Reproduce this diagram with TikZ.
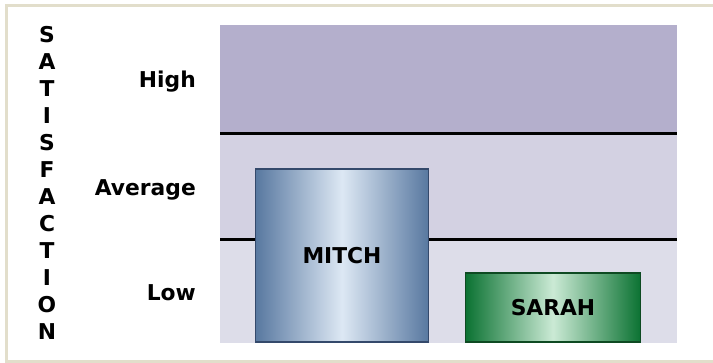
\documentclass[tikz,border=0pt]{standalone}
\usepackage{fontspec}
\setmainfont{DejaVu Sans}
\usetikzlibrary{positioning}

\definecolor{frameBeige}{HTML}{E2DECB}
\definecolor{bandHigh}{HTML}{B4AFCC}
\definecolor{bandAverage}{HTML}{D3D1E2}
\definecolor{bandLow}{HTML}{DDDDE9}
\definecolor{mitchDark}{HTML}{5878A0}
\definecolor{mitchLight}{HTML}{DDE8F4}
\definecolor{mitchEdge}{HTML}{34496B}
\definecolor{sarahDark}{HTML}{0B7232}
\definecolor{sarahLight}{HTML}{CBEAD5}
\definecolor{sarahEdge}{HTML}{0E4A22}

\begin{document}
\begin{tikzpicture}[x=1pt, y=-1pt, font=\fontsize{21.8}{26}\selectfont\bfseries]
        \useasboundingbox (0,0) rectangle (713,363);
        \draw[line width=3pt, color = frameBeige] (6,5.5) rectangle (720,361.5);

        % bands of the chart
        \fill[color = bandHigh] (220,25) rectangle (677,134);
        \fill[color = bandAverage] (220,134) rectangle (677,240);
        \fill[color = bandLow] (220,240) rectangle (677,343);
        \draw[line width=3pt, color = black] (220,133.5) -- (677,133.5);
        \draw[line width=3pt, color = black] (220,240) -- (677,240);

        \node[anchor = base east, inner sep = 0pt] (high) at (196,88) {High};
        \node[anchor = base east, inner sep = 0pt] (average) at (196,195.5) {Average};
        \node[anchor = base east, inner sep = 0pt] (low) at (196,300.5) {Low};

        \foreach \letter [count = \i from 0] in {S,A,T,I,S,F,A,C,T,I,O,N}
                \node (axis\i) at (47,35 + 27*\i) {\letter};

        \node[rectangle, draw = mitchEdge, line width=1.2pt, minimum width = 173pt, minimum height = 173pt,
                left color = mitchDark, right color = mitchDark, middle color = mitchLight] (mitch) at (342,255.5) {MITCH};
        \node[rectangle, draw = sarahEdge, line width=1.2pt, minimum width = 175pt, minimum height = 69pt,
                left color = sarahDark, right color = sarahDark, middle color = sarahLight] (sarah) at (553,307.5) {SARAH};
      \end{tikzpicture}
\end{document}
